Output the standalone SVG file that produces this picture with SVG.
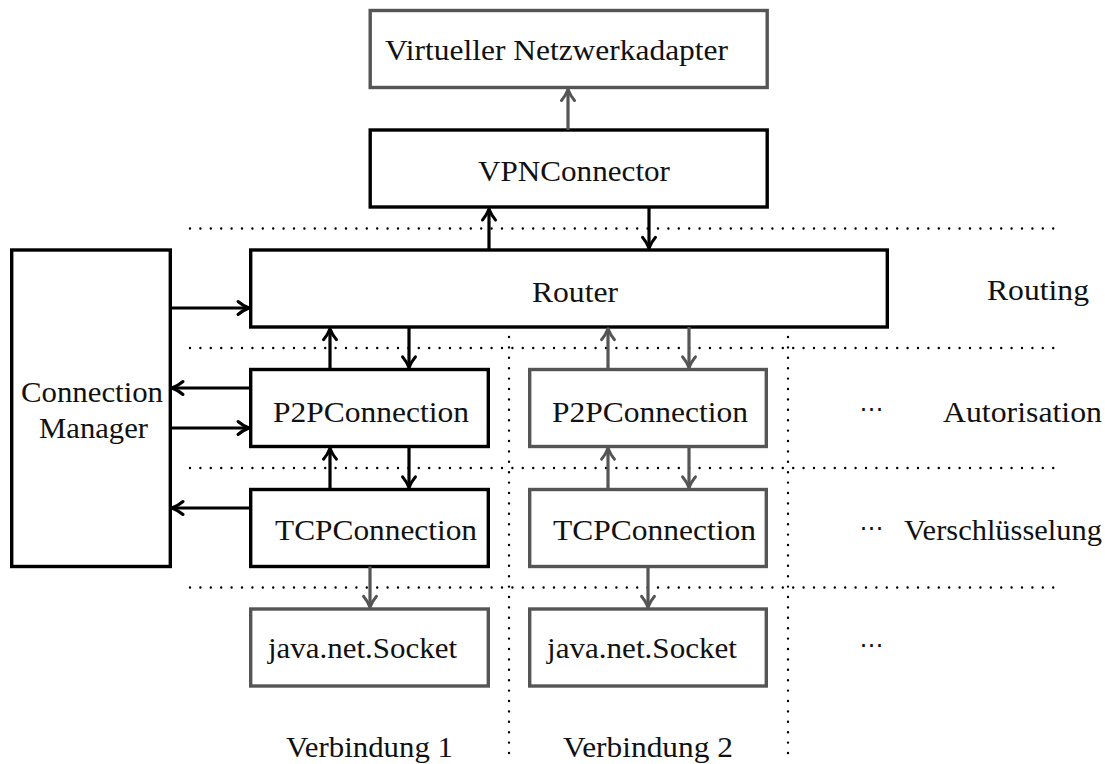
<svg xmlns="http://www.w3.org/2000/svg" width="1105" height="764" viewBox="0 0 1105 764">
  <defs>
    <style>
      .box { fill: #fff; stroke-width: 3.4; }
      .dark { stroke: #000; }
      .grey { stroke: #555; }
      .lbl { font-size: 29px; fill: #111; }
      .dots { font-size: 24px; fill: #111; text-anchor: middle; }
      .sep { stroke: #000; stroke-width: 2.4; stroke-linecap: round; stroke-dasharray: 0 10.4; fill: none; }
      .edge { fill: none; stroke-width: 3.2; }
      .edge.dark { marker-end: url(#tipDark); }
      .edge.grey { marker-end: url(#tipGrey); }
    </style>
    <marker id="tipDark" markerUnits="userSpaceOnUse" viewBox="-14 -9 16 18" refX="0" refY="0" markerWidth="16" markerHeight="18" orient="auto" overflow="visible">
      <path d="M -11 -6.5 C -7 -3 -2.5 -1 0 0 C -2.5 1 -7 3 -11 6.5" fill="none" stroke="#000" stroke-width="3" stroke-linecap="round" stroke-linejoin="round"/>
    </marker>
    <marker id="tipGrey" markerUnits="userSpaceOnUse" viewBox="-14 -9 16 18" refX="0" refY="0" markerWidth="16" markerHeight="18" orient="auto" overflow="visible">
      <path d="M -11 -6.5 C -7 -3 -2.5 -1 0 0 C -2.5 1 -7 3 -11 6.5" fill="none" stroke="#555" stroke-width="3" stroke-linecap="round" stroke-linejoin="round"/>
    </marker>
  </defs>

  <rect width="1105" height="764" fill="#fff"/>

  <!-- layer separators -->
  <g id="separators">
    <line class="sep" x1="190" y1="228.5" x2="1060" y2="228.5"/>
    <line class="sep" x1="190" y1="348" x2="1060" y2="348"/>
    <line class="sep" x1="190" y1="468" x2="1060" y2="468"/>
    <line class="sep" x1="190" y1="587.5" x2="1060" y2="587.5"/>
    <line class="sep" x1="509" y1="337" x2="509" y2="762"/>
    <line class="sep" x1="788" y1="337" x2="788" y2="762"/>
  </g>

  <!-- nodes -->
  <g id="nodes" font-family="'Liberation Serif', 'DejaVu Serif', serif">
    <g id="adapter">
      <rect class="box grey" x="370.2" y="10.5" width="397" height="77"/>
      <text class="lbl" x="385" y="60" textLength="343" lengthAdjust="spacingAndGlyphs">Virtueller Netzwerkadapter</text>
    </g>
    <g id="vpnconnector">
      <rect class="box dark" x="370.2" y="130" width="397" height="77"/>
      <text class="lbl" x="478" y="181" textLength="192" lengthAdjust="spacingAndGlyphs">VPNConnector</text>
    </g>
    <g id="router">
      <rect class="box dark" x="250.7" y="250" width="636.6" height="77"/>
      <text class="lbl" x="532" y="302" textLength="86" lengthAdjust="spacingAndGlyphs">Router</text>
    </g>
    <g id="connection-manager">
      <rect class="box dark" x="11.7" y="250" width="158.6" height="316.5"/>
      <text class="lbl" x="21" y="402" textLength="142" lengthAdjust="spacingAndGlyphs">Connection</text>
      <text class="lbl" x="39" y="438" textLength="109" lengthAdjust="spacingAndGlyphs">Manager</text>
    </g>
    <g id="p2p-1">
      <rect class="box dark" x="250.7" y="369.5" width="237.6" height="77"/>
      <text class="lbl" x="273" y="422" textLength="196" lengthAdjust="spacingAndGlyphs">P2PConnection</text>
    </g>
    <g id="tcp-1">
      <rect class="box dark" x="250.7" y="489.5" width="237.6" height="77"/>
      <text class="lbl" x="275" y="540" textLength="202" lengthAdjust="spacingAndGlyphs">TCPConnection</text>
    </g>
    <g id="socket-1">
      <rect class="box grey" x="250.7" y="609" width="237.6" height="77"/>
      <text class="lbl" x="268" y="658" textLength="189" lengthAdjust="spacingAndGlyphs">java.net.Socket</text>
    </g>
    <g id="p2p-2">
      <rect class="box grey" x="529.7" y="369.5" width="236.6" height="77"/>
      <text class="lbl" x="552" y="422" textLength="196" lengthAdjust="spacingAndGlyphs">P2PConnection</text>
    </g>
    <g id="tcp-2">
      <rect class="box grey" x="529.7" y="489.5" width="236.6" height="77"/>
      <text class="lbl" x="553" y="540" textLength="203" lengthAdjust="spacingAndGlyphs">TCPConnection</text>
    </g>
    <g id="socket-2">
      <rect class="box grey" x="529.7" y="609" width="236.6" height="77"/>
      <text class="lbl" x="547" y="658" textLength="190" lengthAdjust="spacingAndGlyphs">java.net.Socket</text>
    </g>
  </g>

  <!-- layer and column captions -->
  <g id="captions" font-family="'Liberation Serif', 'DejaVu Serif', serif">
    <text class="lbl" x="987" y="300" textLength="102" lengthAdjust="spacingAndGlyphs">Routing</text>
    <text class="lbl" x="943" y="422" textLength="159" lengthAdjust="spacingAndGlyphs">Autorisation</text>
    <text class="lbl" x="904" y="540" textLength="198" lengthAdjust="spacingAndGlyphs">Verschlüsselung</text>
    <text class="lbl" x="286" y="757" textLength="167" lengthAdjust="spacingAndGlyphs">Verbindung 1</text>
    <text class="lbl" x="563" y="757" textLength="170" lengthAdjust="spacingAndGlyphs">Verbindung 2</text>
    <text class="dots" font-family="'DejaVu Sans', sans-serif" x="871.5" y="417">⋯</text>
    <text class="dots" font-family="'DejaVu Sans', sans-serif" x="871.5" y="536">⋯</text>
    <text class="dots" font-family="'DejaVu Sans', sans-serif" x="871.5" y="653">⋯</text>
  </g>

  <!-- connectors -->
  <g id="connectors">
    <line class="edge grey" x1="568" y1="130" x2="568" y2="89.5"/>
    <line class="edge dark" x1="489" y1="250" x2="489" y2="209"/>
    <line class="edge dark" x1="649" y1="207" x2="649" y2="248.3"/>
    <line class="edge dark" x1="170.3" y1="308" x2="249" y2="308"/>
    <line class="edge dark" x1="330" y1="369.5" x2="330" y2="328.7"/>
    <line class="edge dark" x1="409" y1="327" x2="409" y2="367.8"/>
    <line class="edge dark" x1="250.7" y1="388" x2="172" y2="388"/>
    <line class="edge dark" x1="170.3" y1="428" x2="249" y2="428"/>
    <line class="edge dark" x1="330" y1="489.5" x2="330" y2="448.2"/>
    <line class="edge dark" x1="409" y1="446.5" x2="409" y2="487.8"/>
    <line class="edge dark" x1="250.7" y1="508" x2="172" y2="508"/>
    <line class="edge grey" x1="608" y1="369.5" x2="608" y2="328.7"/>
    <line class="edge grey" x1="689" y1="327" x2="689" y2="367.8"/>
    <line class="edge grey" x1="608" y1="489.5" x2="608" y2="448.2"/>
    <line class="edge grey" x1="689" y1="446.5" x2="689" y2="487.8"/>
    <line class="edge grey" x1="370" y1="566.5" x2="370" y2="607.3"/>
    <line class="edge grey" x1="648" y1="566.5" x2="648" y2="607.3"/>
  </g>
</svg>
